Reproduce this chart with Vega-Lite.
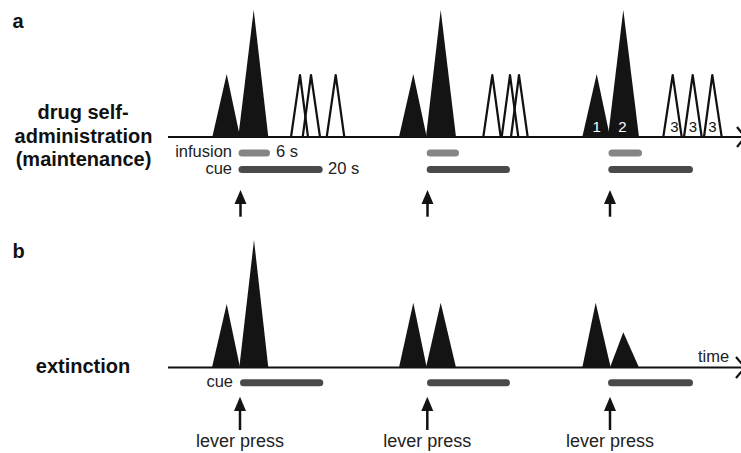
{
  "$schema": "https://vega.github.io/schema/vega-lite/v6.json",
  "width": 741,
  "height": 453,
  "padding": 0,
  "autosize": {"type": "none"},
  "background": "white",
  "config": {"view": {"stroke": null}},
  "datasets": {
    "filled": [
      {"id": "a1F1", "t": 212.3, "y": 137, "base": 137},
      {"id": "a1F1", "t": 226.7, "y": 74, "base": 137},
      {"id": "a1F1", "t": 240, "y": 137, "base": 137},
      {"id": "a1F2", "t": 238.3, "y": 137, "base": 137},
      {"id": "a1F2", "t": 253.7, "y": 10, "base": 137},
      {"id": "a1F2", "t": 268.3, "y": 137, "base": 137},
      {"id": "a2F1", "t": 399, "y": 137, "base": 137},
      {"id": "a2F1", "t": 413.3, "y": 74, "base": 137},
      {"id": "a2F1", "t": 426.7, "y": 137, "base": 137},
      {"id": "a2F2", "t": 426, "y": 137, "base": 137},
      {"id": "a2F2", "t": 440.7, "y": 10, "base": 137},
      {"id": "a2F2", "t": 456, "y": 137, "base": 137},
      {"id": "a3F1", "t": 582.3, "y": 137, "base": 137},
      {"id": "a3F1", "t": 596.7, "y": 74, "base": 137},
      {"id": "a3F1", "t": 610, "y": 137, "base": 137},
      {"id": "a3F2", "t": 608, "y": 137, "base": 137},
      {"id": "a3F2", "t": 623.3, "y": 10, "base": 137},
      {"id": "a3F2", "t": 639, "y": 137, "base": 137},
      {"id": "b1F1", "t": 212, "y": 367.5, "base": 367.5},
      {"id": "b1F1", "t": 226.7, "y": 304, "base": 367.5},
      {"id": "b1F1", "t": 240, "y": 367.5, "base": 367.5},
      {"id": "b1F2", "t": 239.3, "y": 367.5, "base": 367.5},
      {"id": "b1F2", "t": 254, "y": 240, "base": 367.5},
      {"id": "b1F2", "t": 268.3, "y": 367.5, "base": 367.5},
      {"id": "b2F1", "t": 399, "y": 367.5, "base": 367.5},
      {"id": "b2F1", "t": 413.3, "y": 302.7, "base": 367.5},
      {"id": "b2F1", "t": 426.7, "y": 367.5, "base": 367.5},
      {"id": "b2F2", "t": 426, "y": 367.5, "base": 367.5},
      {"id": "b2F2", "t": 440.7, "y": 302.7, "base": 367.5},
      {"id": "b2F2", "t": 456, "y": 367.5, "base": 367.5},
      {"id": "b3F1", "t": 582.3, "y": 367.5, "base": 367.5},
      {"id": "b3F1", "t": 595.7, "y": 302.7, "base": 367.5},
      {"id": "b3F1", "t": 610.7, "y": 367.5, "base": 367.5},
      {"id": "b3F2", "t": 610, "y": 367.5, "base": 367.5},
      {"id": "b3F2", "t": 623.3, "y": 332.3, "base": 367.5},
      {"id": "b3F2", "t": 639, "y": 367.5, "base": 367.5},
      {"id": "ha1", "t": 234.5, "y": 204, "base": 204},
      {"id": "ha1", "t": 240.5, "y": 190, "base": 204},
      {"id": "ha1", "t": 246.5, "y": 204, "base": 204},
      {"id": "ha2", "t": 421.5, "y": 204, "base": 204},
      {"id": "ha2", "t": 427.5, "y": 190, "base": 204},
      {"id": "ha2", "t": 433.5, "y": 204, "base": 204},
      {"id": "ha3", "t": 604, "y": 204, "base": 204},
      {"id": "ha3", "t": 610, "y": 190, "base": 204},
      {"id": "ha3", "t": 616, "y": 204, "base": 204},
      {"id": "hb1", "t": 234, "y": 411, "base": 411},
      {"id": "hb1", "t": 240, "y": 396.7, "base": 411},
      {"id": "hb1", "t": 246, "y": 411, "base": 411},
      {"id": "hb2", "t": 421.3, "y": 411, "base": 411},
      {"id": "hb2", "t": 427.3, "y": 396.7, "base": 411},
      {"id": "hb2", "t": 433.3, "y": 411, "base": 411},
      {"id": "hb3", "t": 604, "y": 411, "base": 411},
      {"id": "hb3", "t": 610, "y": 396.7, "base": 411},
      {"id": "hb3", "t": 616, "y": 411, "base": 411}
    ],
    "open": [
      {"id": "a1O1", "ord": 1, "t": 291, "y": 137},
      {"id": "a1O1", "ord": 2, "t": 300, "y": 75},
      {"id": "a1O1", "ord": 3, "t": 308, "y": 137},
      {"id": "a1O2", "ord": 1, "t": 302.7, "y": 137},
      {"id": "a1O2", "ord": 2, "t": 311, "y": 75},
      {"id": "a1O2", "ord": 3, "t": 320, "y": 137},
      {"id": "a1O3", "ord": 1, "t": 326.7, "y": 137},
      {"id": "a1O3", "ord": 2, "t": 335.7, "y": 75},
      {"id": "a1O3", "ord": 3, "t": 344.3, "y": 137},
      {"id": "a2O1", "ord": 1, "t": 483.3, "y": 137},
      {"id": "a2O1", "ord": 2, "t": 492.3, "y": 75},
      {"id": "a2O1", "ord": 3, "t": 500.7, "y": 137},
      {"id": "a2O2", "ord": 1, "t": 501.7, "y": 137},
      {"id": "a2O2", "ord": 2, "t": 510, "y": 75},
      {"id": "a2O2", "ord": 3, "t": 518.3, "y": 137},
      {"id": "a2O3", "ord": 1, "t": 511, "y": 137},
      {"id": "a2O3", "ord": 2, "t": 519, "y": 75},
      {"id": "a2O3", "ord": 3, "t": 527.7, "y": 137},
      {"id": "a3O1", "ord": 1, "t": 663.3, "y": 137},
      {"id": "a3O1", "ord": 2, "t": 672.7, "y": 75},
      {"id": "a3O1", "ord": 3, "t": 681.7, "y": 137},
      {"id": "a3O2", "ord": 1, "t": 684, "y": 137},
      {"id": "a3O2", "ord": 2, "t": 692.7, "y": 75},
      {"id": "a3O2", "ord": 3, "t": 701.7, "y": 137},
      {"id": "a3O3", "ord": 1, "t": 704, "y": 137},
      {"id": "a3O3", "ord": 2, "t": 712.3, "y": 75},
      {"id": "a3O3", "ord": 3, "t": 721.7, "y": 137},
      {"id": "ca", "ord": 1, "t": 737, "y": 127},
      {"id": "ca", "ord": 2, "t": 745, "y": 137},
      {"id": "ca", "ord": 3, "t": 737, "y": 147},
      {"id": "cb", "ord": 1, "t": 736, "y": 357},
      {"id": "cb", "ord": 2, "t": 745, "y": 367.5},
      {"id": "cb", "ord": 3, "t": 736, "y": 378}
    ],
    "lines": [
      {"t0": 168, "t1": 744, "y": 137},
      {"t0": 168, "t1": 744, "y": 367.5}
    ],
    "stems": [
      {"t": 240.5, "y0": 200, "y1": 216.7},
      {"t": 427.5, "y0": 200, "y1": 216.7},
      {"t": 610, "y0": 200, "y1": 216.7},
      {"t": 240, "y0": 406, "y1": 430},
      {"t": 427.3, "y0": 406, "y1": 430},
      {"t": 610, "y0": 406, "y1": 430}
    ],
    "bars": [
      {"type": "infusion", "t0": 242, "t1": 266.5, "y": 153},
      {"type": "infusion", "t0": 430.2, "t1": 455.5, "y": 153},
      {"type": "infusion", "t0": 612, "t1": 638.5, "y": 153},
      {"type": "cue", "t0": 242, "t1": 319.2, "y": 169.5},
      {"type": "cue", "t0": 430.2, "t1": 506.5, "y": 169.5},
      {"type": "cue", "t0": 611.8, "t1": 689.5, "y": 169.5},
      {"type": "cue", "t0": 243.5, "t1": 319.8, "y": 382.8},
      {"type": "cue", "t0": 430.5, "t1": 506.5, "y": 382.8},
      {"type": "cue", "t0": 611.5, "t1": 689.5, "y": 382.8}
    ],
    "labels": [
      {"role": "bold", "text": "drug self-", "t": 83, "y": 118.5},
      {"role": "bold", "text": "administration", "t": 83.5, "y": 142.5},
      {"role": "bold", "text": "(maintenance)", "t": 83.5, "y": 165.5},
      {"role": "bold", "text": "extinction", "t": 83, "y": 373.3},
      {"role": "letter", "text": "a", "t": 12.5, "y": 28},
      {"role": "letter", "text": "b", "t": 12.5, "y": 258},
      {"role": "right", "text": "infusion", "t": 232, "y": 157},
      {"role": "right", "text": "cue", "t": 232, "y": 173.5},
      {"role": "right", "text": "cue", "t": 233, "y": 387.3},
      {"role": "left", "text": "6 s", "t": 276, "y": 157},
      {"role": "left", "text": "20 s", "t": 328, "y": 173.5},
      {"role": "left", "text": "time", "t": 698, "y": 361.7},
      {"role": "center", "text": "lever press", "t": 240, "y": 447.3},
      {"role": "center", "text": "lever press", "t": 427.3, "y": 447.3},
      {"role": "center", "text": "lever press", "t": 610, "y": 447.3},
      {"role": "white", "text": "1", "t": 596.7, "y": 131.5},
      {"role": "white", "text": "2", "t": 622.5, "y": 131.5},
      {"role": "num", "text": "3", "t": 674.5, "y": 131.5},
      {"role": "num", "text": "3", "t": 693, "y": 131.5},
      {"role": "num", "text": "3", "t": 712.5, "y": 131.5}
    ]
  },
  "layer": [
    {
      "data": {"name": "lines"},
      "mark": {"type": "rule", "color": "#111111", "strokeWidth": 2},
      "encoding": {
        "x": {"field": "t0", "type": "quantitative", "scale": {"domain": [0, 741], "nice": false, "zero": false}, "axis": null},
        "x2": {"field": "t1"},
        "y": {"field": "y", "type": "quantitative", "scale": {"domain": [0, 453], "nice": false, "zero": false, "reverse": true}, "axis": null}
      }
    },
    {
      "data": {"name": "filled"},
      "mark": {"type": "area", "color": "#141414", "interpolate": "linear", "orient": "vertical"},
      "encoding": {
        "x": {"field": "t", "type": "quantitative", "axis": null},
        "y": {"field": "y", "type": "quantitative", "axis": null},
        "y2": {"field": "base"},
        "detail": {"field": "id", "type": "nominal"}
      }
    },
    {
      "data": {"name": "open"},
      "mark": {"type": "line", "color": "#111111", "strokeWidth": 2.2, "strokeJoin": "round"},
      "encoding": {
        "x": {"field": "t", "type": "quantitative", "axis": null},
        "y": {"field": "y", "type": "quantitative", "axis": null},
        "detail": {"field": "id", "type": "nominal"},
        "order": {"field": "ord"}
      }
    },
    {
      "data": {"name": "stems"},
      "mark": {"type": "rule", "color": "#111111", "strokeWidth": 2.5},
      "encoding": {
        "x": {"field": "t", "type": "quantitative", "axis": null},
        "y": {"field": "y0", "type": "quantitative", "axis": null},
        "y2": {"field": "y1"}
      }
    },
    {
      "data": {"name": "bars"},
      "mark": {"type": "rule", "strokeWidth": 7, "strokeCap": "round"},
      "encoding": {
        "x": {"field": "t0", "type": "quantitative", "axis": null},
        "x2": {"field": "t1"},
        "y": {"field": "y", "type": "quantitative", "axis": null},
        "color": {"field": "type", "type": "nominal", "scale": {"domain": ["infusion", "cue"], "range": ["#858585", "#4a4a4a"]}, "legend": null}
      }
    },
    {
      "data": {"name": "labels"},
      "transform": [{"filter": "datum.role === 'bold'"}],
      "mark": {"type": "text", "font": "Liberation Sans", "fontWeight": "bold", "fontSize": 20, "align": "center", "baseline": "alphabetic", "color": "#111111"},
      "encoding": {
        "x": {"field": "t", "type": "quantitative", "axis": null},
        "y": {"field": "y", "type": "quantitative", "axis": null},
        "text": {"field": "text"}
      }
    },
    {
      "data": {"name": "labels"},
      "transform": [{"filter": "datum.role === 'letter'"}],
      "mark": {"type": "text", "font": "Liberation Sans", "fontWeight": "bold", "fontSize": 20, "align": "left", "baseline": "alphabetic", "color": "#111111"},
      "encoding": {
        "x": {"field": "t", "type": "quantitative", "axis": null},
        "y": {"field": "y", "type": "quantitative", "axis": null},
        "text": {"field": "text"}
      }
    },
    {
      "data": {"name": "labels"},
      "transform": [{"filter": "datum.role === 'right'"}],
      "mark": {"type": "text", "font": "Liberation Sans", "fontSize": 16.5, "align": "right", "baseline": "alphabetic", "color": "#222222"},
      "encoding": {
        "x": {"field": "t", "type": "quantitative", "axis": null},
        "y": {"field": "y", "type": "quantitative", "axis": null},
        "text": {"field": "text"}
      }
    },
    {
      "data": {"name": "labels"},
      "transform": [{"filter": "datum.role === 'left'"}],
      "mark": {"type": "text", "font": "Liberation Sans", "fontSize": 16.5, "align": "left", "baseline": "alphabetic", "color": "#222222"},
      "encoding": {
        "x": {"field": "t", "type": "quantitative", "axis": null},
        "y": {"field": "y", "type": "quantitative", "axis": null},
        "text": {"field": "text"}
      }
    },
    {
      "data": {"name": "labels"},
      "transform": [{"filter": "datum.role === 'center'"}],
      "mark": {"type": "text", "font": "Liberation Sans", "fontSize": 18, "align": "center", "baseline": "alphabetic", "color": "#222222"},
      "encoding": {
        "x": {"field": "t", "type": "quantitative", "axis": null},
        "y": {"field": "y", "type": "quantitative", "axis": null},
        "text": {"field": "text"}
      }
    },
    {
      "data": {"name": "labels"},
      "transform": [{"filter": "datum.role === 'white'"}],
      "mark": {"type": "text", "font": "Liberation Sans", "fontSize": 15, "align": "center", "baseline": "alphabetic", "color": "#ffffff"},
      "encoding": {
        "x": {"field": "t", "type": "quantitative", "axis": null},
        "y": {"field": "y", "type": "quantitative", "axis": null},
        "text": {"field": "text"}
      }
    },
    {
      "data": {"name": "labels"},
      "transform": [{"filter": "datum.role === 'num'"}],
      "mark": {"type": "text", "font": "Liberation Sans", "fontSize": 15, "align": "center", "baseline": "alphabetic", "color": "#111111"},
      "encoding": {
        "x": {"field": "t", "type": "quantitative", "axis": null},
        "y": {"field": "y", "type": "quantitative", "axis": null},
        "text": {"field": "text"}
      }
    }
  ]
}
